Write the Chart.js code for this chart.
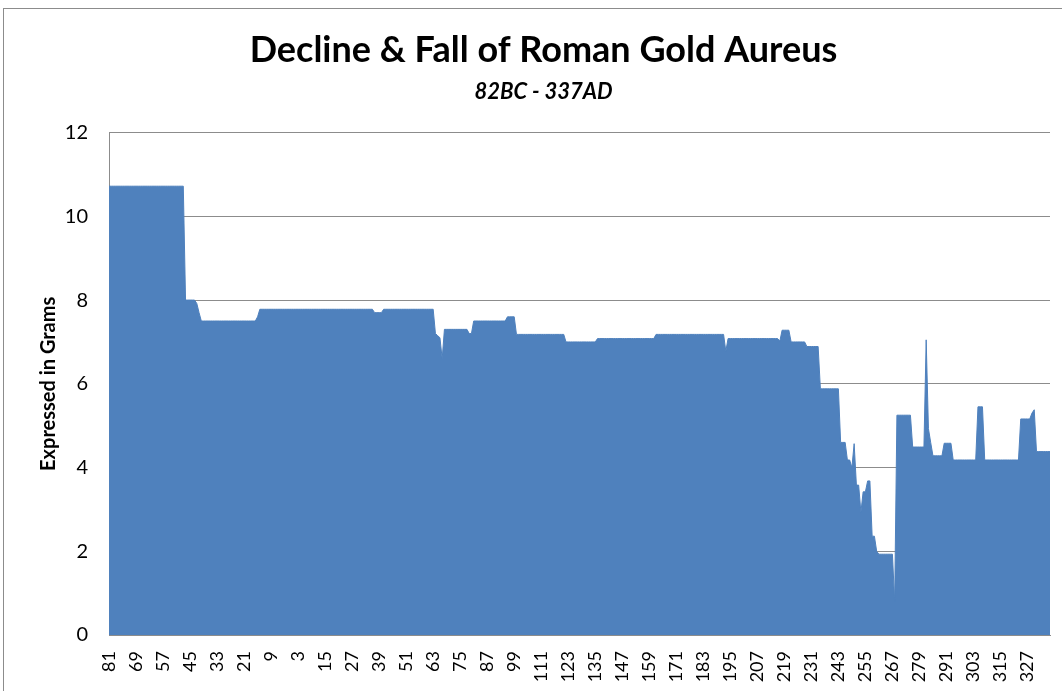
<!DOCTYPE html>
<html>
<head>
<meta charset="utf-8">
<script src="https://cdn.jsdelivr.net/npm/chart.js@4/dist/chart.umd.min.js"></script>
<style>
  html, body { margin: 0; padding: 0; background: #fff; overflow: hidden; }
  #frame { position: absolute; left: 3px; top: 8px; width: 1100px; height: 720px; border: 1px solid #8c8c8c; }
  #wrap { position: absolute; left: 0; top: 0; width: 1062px; height: 691px; }
</style>
</head>
<body>
<div id="frame"></div>
<div id="wrap"><canvas id="chart" width="1062" height="691"></canvas></div>
<script>
// years: 81 BC down to 0, then 1 AD up to 337 AD
const firstYearBC = 81;
const lastYearAD = 337;
const years = [];
for (let y = firstYearBC; y >= 0; y--) years.push(String(y));
for (let y = 1; y <= lastYearAD; y++) years.push(String(y));

// one label every 12 years
const labelEvery = 12;

// aureus weight in grams, one value per year
const grams = [
  10.72, 10.72, 10.72, 10.72, 10.72, 10.72, 10.72, 10.72, 10.72, 10.72,
  10.72, 10.72, 10.72, 10.72, 10.72, 10.72, 10.72, 10.72, 10.72, 10.72,
  10.72, 10.72, 10.72, 10.72, 10.72, 10.72, 10.72, 10.72, 10.72, 10.72,
  10.72, 10.72, 10.72, 10.72, 8.0, 8.0, 8.0, 8.0, 8.0, 7.92,
  7.7, 7.5, 7.5, 7.5, 7.5, 7.5, 7.5, 7.5, 7.5, 7.5,
  7.5, 7.5, 7.5, 7.5, 7.5, 7.5, 7.5, 7.5, 7.5, 7.5,
  7.5, 7.5, 7.5, 7.5, 7.5, 7.5, 7.6, 7.78, 7.78, 7.78,
  7.78, 7.78, 7.78, 7.78, 7.78, 7.78, 7.78, 7.78, 7.78, 7.78,
  7.78, 7.78, 7.78, 7.78, 7.78, 7.78, 7.78, 7.78, 7.78, 7.78,
  7.78, 7.78, 7.78, 7.78, 7.78, 7.78, 7.78, 7.78, 7.78, 7.78,
  7.78, 7.78, 7.78, 7.78, 7.78, 7.78, 7.78, 7.78, 7.78, 7.78,
  7.78, 7.78, 7.78, 7.78, 7.78, 7.78, 7.78, 7.78, 7.7, 7.7,
  7.7, 7.7, 7.78, 7.78, 7.78, 7.78, 7.78, 7.78, 7.78, 7.78,
  7.78, 7.78, 7.78, 7.78, 7.78, 7.78, 7.78, 7.78, 7.78, 7.78,
  7.78, 7.78, 7.78, 7.78, 7.78, 7.2, 7.15, 7.1, 6.6, 7.3,
  7.3, 7.3, 7.3, 7.3, 7.3, 7.3, 7.3, 7.3, 7.3, 7.3,
  7.2, 7.2, 7.5, 7.5, 7.5, 7.5, 7.5, 7.5, 7.5, 7.5,
  7.5, 7.5, 7.5, 7.5, 7.5, 7.5, 7.5, 7.6, 7.6, 7.6,
  7.6, 7.18, 7.18, 7.18, 7.18, 7.18, 7.18, 7.18, 7.18, 7.18,
  7.18, 7.18, 7.18, 7.18, 7.18, 7.18, 7.18, 7.18, 7.18, 7.18,
  7.18, 7.18, 7.18, 7.0, 7.0, 7.0, 7.0, 7.0, 7.0, 7.0,
  7.0, 7.0, 7.0, 7.0, 7.0, 7.0, 7.0, 7.08, 7.08, 7.08,
  7.08, 7.08, 7.08, 7.08, 7.08, 7.08, 7.08, 7.08, 7.08, 7.08,
  7.08, 7.08, 7.08, 7.08, 7.08, 7.08, 7.08, 7.08, 7.08, 7.08,
  7.08, 7.08, 7.08, 7.18, 7.18, 7.18, 7.18, 7.18, 7.18, 7.18,
  7.18, 7.18, 7.18, 7.18, 7.18, 7.18, 7.18, 7.18, 7.18, 7.18,
  7.18, 7.18, 7.18, 7.18, 7.18, 7.18, 7.18, 7.18, 7.18, 7.18,
  7.18, 7.18, 7.18, 7.18, 6.78, 7.08, 7.08, 7.08, 7.08, 7.08,
  7.08, 7.08, 7.08, 7.08, 7.08, 7.08, 7.08, 7.08, 7.08, 7.08,
  7.08, 7.08, 7.08, 7.08, 7.08, 7.08, 7.08, 7.08, 7.02, 7.28,
  7.28, 7.28, 7.28, 7.0, 7.0, 7.0, 7.0, 7.0, 7.0, 7.0,
  6.89, 6.89, 6.89, 6.89, 6.89, 6.89, 5.88, 5.88, 5.88, 5.88,
  5.88, 5.88, 5.88, 5.88, 5.88, 4.6, 4.6, 4.6, 4.18, 4.18,
  4.0, 4.57, 3.58, 3.58, 2.93, 3.42, 3.42, 3.68, 3.68, 2.36,
  2.36, 2.0, 1.93, 1.93, 1.93, 1.93, 1.93, 1.93, 1.93, 0.79,
  5.25, 5.25, 5.25, 5.25, 5.25, 5.25, 5.25, 4.49, 4.49, 4.49,
  4.49, 4.49, 4.49, 7.05, 4.93, 4.6, 4.28, 4.28, 4.28, 4.28,
  4.28, 4.58, 4.58, 4.58, 4.58, 4.18, 4.18, 4.18, 4.18, 4.18,
  4.18, 4.18, 4.18, 4.18, 4.18, 4.18, 5.45, 5.45, 5.45, 4.18,
  4.18, 4.18, 4.18, 4.18, 4.18, 4.18, 4.18, 4.18, 4.18, 4.18,
  4.18, 4.18, 4.18, 4.18, 4.18, 5.16, 5.16, 5.16, 5.16, 5.16,
  5.3, 5.38, 4.38, 4.38, 4.38, 4.38, 4.38, 4.38, 4.38,
];

const gridGrey = '#8c8c8c';
Chart.defaults.font.family = 'Lato';
Chart.defaults.color = '#000';

new Chart(document.getElementById('chart'), {
  type: 'line',
  data: {
    labels: years,
    datasets: [
      {
        label: 'Grams',
        data: grams,
        fill: 'origin',
        backgroundColor: '#4f81bd',
        borderColor: '#4f81bd',
        borderWidth: 1,
        pointRadius: 0,
        tension: 0,
      },
    ],
  },
  options: {
    responsive: false,
    animation: false,
    layout: { padding: { left: 37, right: 12, top: 0, bottom: 0 } },
    plugins: {
      legend: { display: false },
      tooltip: { enabled: false },
      title: {
        display: true,
        text: 'Decline & Fall of Roman Gold Aureus',
        font: { size: 36, weight: 'bold' },
        color: '#000',
        padding: { top: 29, bottom: 7 },
      },
      subtitle: {
        display: true,
        text: '82BC - 337AD',
        font: { size: 22, weight: 'bold', style: 'italic' },
        color: '#000',
        padding: { top: 0, bottom: 27 },
      },
    },
    scales: {
      x: {
        offset: false,
        grid: { display: false, drawTicks: false },
        border: { display: true, color: gridGrey },
        ticks: {
          autoSkip: false,
          minRotation: 90,
          maxRotation: 90,
          padding: 16,
          font: { size: 18 },
          callback: (v, i) => (i % labelEvery === 0 ? years[i] : ''),
        },
        afterFit: (s) => {
          s.height = 56;
          s.paddingLeft = 0;
          s.paddingRight = 0;
        },
      },
      y: {
        min: 0,
        max: 12,
        ticks: { stepSize: 2, padding: 21, font: { size: 20 } },
        grid: { color: gridGrey, drawTicks: false },
        border: { display: true, color: gridGrey },
        title: {
          display: true,
          text: 'Expressed in Grams',
          font: { size: 20, weight: 'bold' },
          padding: 0,
        },
        afterFit: (s) => { s.width = 72; },
      },
    },
  },
});
</script>
</body>
</html>
